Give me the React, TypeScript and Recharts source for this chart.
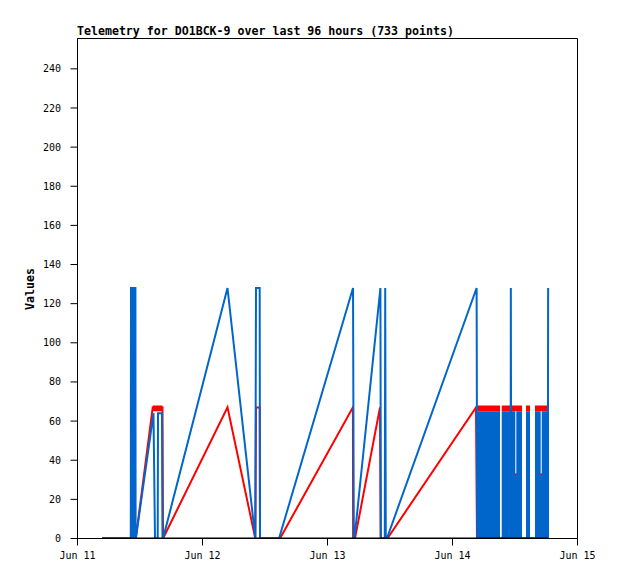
import { ComposedChart, Line, Area, XAxis, YAxis, ReferenceArea } from "recharts";

// x values are hours since Jun 11 00:00
const hourTicks = [0, 24, 48, 72, 96];
const dayLabels = ["Jun 11", "Jun 12", "Jun 13", "Jun 14", "Jun 15"];
const valueTicks = [0, 20, 40, 60, 80, 100, 120, 140, 160, 180, 200, 220, 240];

// channel that stays at zero the whole time
const zeroChannel: number[][] = [
  [4.7, 0],
  [90.34, 0],
];

const redChannel: number[][] = [
  [4.7, 0], [11.19, 0], [14.44, 67], [16.32, 67], [16.42, 0],
  [28.8, 67], [34.14, 0], [34.27, 67], [34.98, 67], [35.04, 0],
  [38.88, 0], [52.88, 67], [52.92, 0], [53.28, 0], [58.08, 67], [58.2, 0],
  [59.5, 0], [76.51, 67], [76.7, 0], [90.34, 0],
];

const blueChannel: number[][] = [
  [4.7, 0],
  [10.23, 0], [10.27, 128], [10.5, 128], [10.55, 0], [10.6, 128], [10.8, 128],
  [10.85, 0], [10.9, 128], [11.12, 128], [11.16, 0],
  [11.2, 0], [14.59, 64], [14.88, 0], [15.4, 0], [15.46, 64], [16.22, 64], [16.32, 0],
  [16.42, 0], [28.8, 128], [34.14, 0], [34.27, 128], [34.98, 128], [35.04, 0],
  [38.69, 0], [52.9, 128], [53.05, 0], [53.18, 0], [58.16, 128], [58.25, 0],
  [59.0, 0], [59.08, 128], [59.19, 0], [59.4, 0], [76.63, 128], [76.74, 0],
  [83.16, 0], [83.2, 128], [83.28, 0], [90.3, 0], [90.36, 128],
];

// dense stretches where the blue channel flips fast between 0 and 64 (step fill)
const blueDense: number[][] = [
  [76.51, 65], [81.12, 0], [81.45, 65], [84.06, 33], [84.25, 65], [85.34, 0],
  [86.11, 65], [86.88, 0], [87.84, 65], [88.93, 33], [89.13, 65], [90.53, 65],
];

// dense stretches where red flips between ~64 and 67: [hour, low, high]
const redDense: number[][] = [
  [14.44, 65, 68], [16.32, 65, 65],
  [76.76, 65, 68], [81.12, 65, 65], [81.45, 65, 68], [85.34, 65, 65],
  [86.11, 65, 68], [86.88, 65, 65], [87.84, 65, 68], [90.2, 65, 65],
];

// short red dips down to 33 inside the dense block
const redDips: number[][] = [
  [84.06, 33], [84.25, 33], [88.93, 33], [89.13, 33],
];

type Row = { t: number; [key: string]: number | number[] | undefined };

function buildRows(): Row[] {
  const rows = new Map<number, Row>();
  const put = (t: number, key: string, v: number | number[]) => {
    const r = rows.get(t) ?? { t };
    r[key] = v;
    rows.set(t, r);
  };
  zeroChannel.forEach(([t, v]) => put(t, "zero", v));
  redChannel.forEach(([t, v]) => put(t, "red", v));
  blueChannel.forEach(([t, v]) => put(t, "blue", v));
  blueDense.forEach(([t, v]) => put(t, "blueFill", v));
  redDense.forEach(([t, lo, hi]) => put(t, "redBand", [lo, hi]));
  redDips.forEach(([t, v]) => put(t, "redDip", v));
  return [...rows.values()].sort((a, b) => a.t - b.t);
}

const data = buildRows();

const BLUE = "#0066cc";
const RED = "#ff0000";
const tickFont = { fill: "#000", fontSize: 10, fontFamily: "DejaVu Sans Mono" };
const labelFont = { fontFamily: "DejaVu Sans Mono", fontWeight: "bold" as const, fontSize: 11.6, color: "#000" };

export default function App() {
  return (
    <div style={{ position: "absolute", left: 0, top: 0, width: 618, height: 579, background: "#fff" }}>
      <div style={{ ...labelFont, position: "absolute", left: 77, top: 24.2, whiteSpace: "nowrap" }}>
        Telemetry for DO1BCK-9 over last 96 hours (733 points)
      </div>
      <div
        style={{
          ...labelFont,
          position: "absolute",
          left: 31,
          top: 289,
          lineHeight: 1,
          whiteSpace: "nowrap",
          transform: "translate(-50%, -50%) rotate(-90deg)",
        }}
      >
        Values
      </div>
      <ComposedChart
        width={618}
        height={579}
        data={data}
        margin={{ top: 38.5, right: 40.5, bottom: 0, left: 0 }}
      >
        <XAxis
          dataKey="t"
          type="number"
          domain={[0, 96]}
          allowDataOverflow
          ticks={hourTicks}
          interval={0}
          tickFormatter={(v) => dayLabels[hourTicks.indexOf(v)]}
          height={40.5}
          tickSize={7}
          tickMargin={6}
          tick={tickFont}
          stroke="#000"
          axisLine={{ stroke: "#000" }}
          tickLine={{ stroke: "#000" }}
        />
        <YAxis
          type="number"
          domain={[0, 255.5]}
          allowDataOverflow
          ticks={valueTicks}
          interval={0}
          width={77.5}
          tickSize={7}
          tickMargin={9.5}
          tick={tickFont}
          stroke="#000"
          axisLine={{ stroke: "#000" }}
          tickLine={{ stroke: "#000" }}
        />
        <ReferenceArea x1={0} x2={96} y1={0} y2={255.5} fill="none" stroke="#000" strokeWidth={1} />
        <Line
          type="linear"
          dataKey="red"
          stroke={RED}
          strokeWidth={2}
          dot={false}
          activeDot={false}
          connectNulls
          isAnimationActive={false}
        />
        <Area
          type="stepAfter"
          dataKey="redBand"
          stroke="none"
          fill={RED}
          fillOpacity={1}
          dot={false}
          activeDot={false}
          connectNulls
          isAnimationActive={false}
        />
        <Area
          type="stepAfter"
          dataKey="blueFill"
          stroke="none"
          fill={BLUE}
          fillOpacity={1}
          dot={false}
          activeDot={false}
          connectNulls
          isAnimationActive={false}
        />
        <Line
          type="linear"
          dataKey="blue"
          stroke={BLUE}
          strokeWidth={2}
          dot={false}
          activeDot={false}
          connectNulls
          isAnimationActive={false}
        />
        <Line
          type="linear"
          dataKey="redDip"
          stroke={RED}
          strokeWidth={2}
          dot={false}
          activeDot={false}
          isAnimationActive={false}
        />
        <Line
          type="linear"
          dataKey="zero"
          stroke="#000"
          strokeWidth={2.2}
          dot={false}
          activeDot={false}
          connectNulls
          isAnimationActive={false}
        />
      </ComposedChart>
    </div>
  );
}
